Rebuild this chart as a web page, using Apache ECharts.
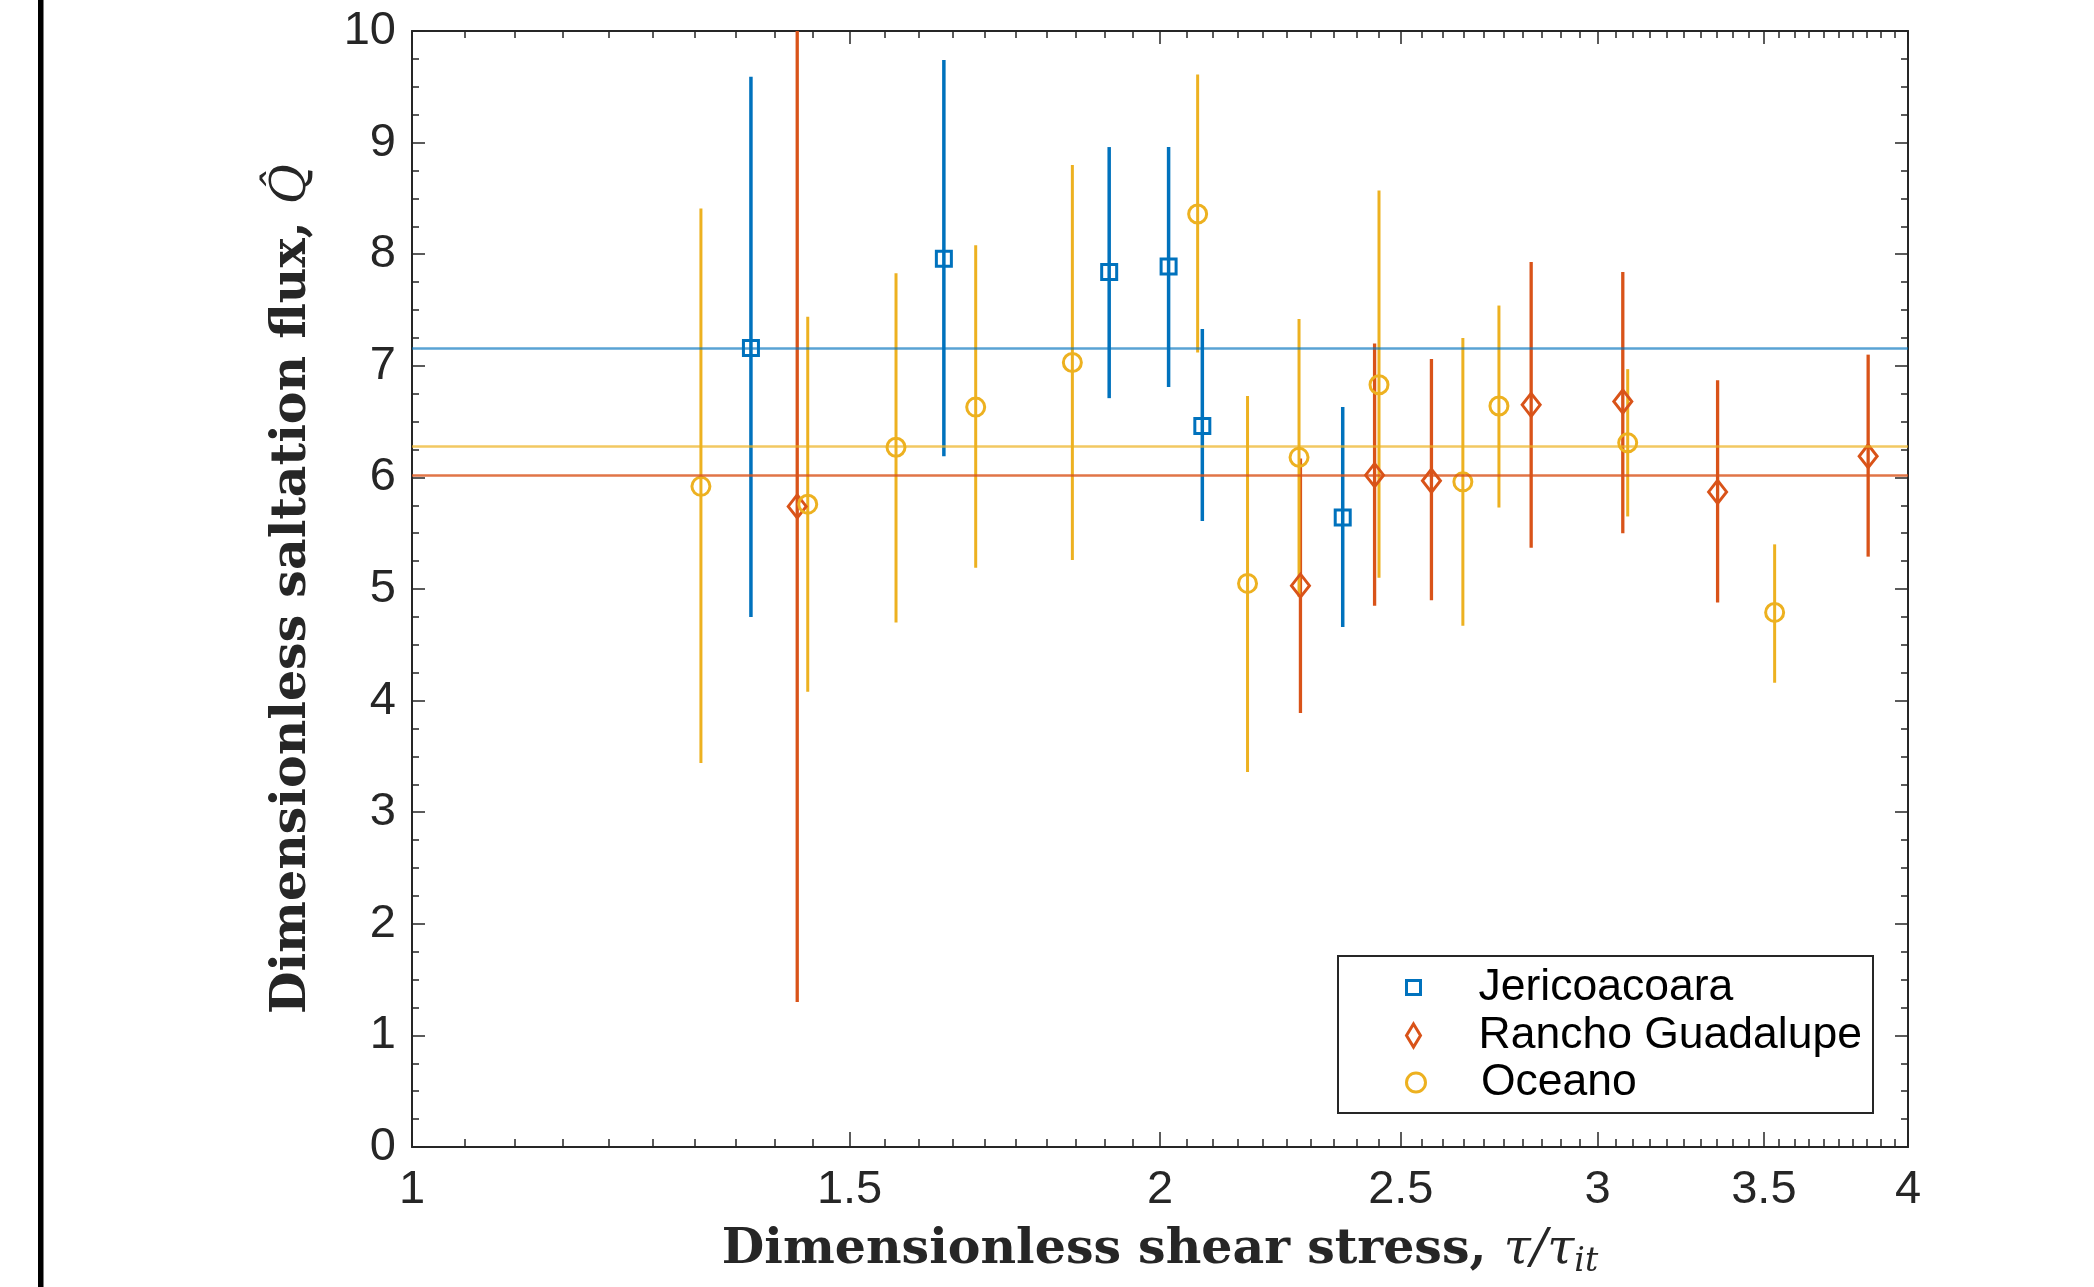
<!DOCTYPE html>
<html>
<head>
<meta charset="utf-8">
<title>Dimensionless saltation flux</title>
<script src="https://cdn.jsdelivr.net/npm/echarts@6/dist/echarts.min.js"></script>
<style>
    html, body { margin: 0; padding: 0; background: #fff; }
    #chart { width: 2094px; height: 1287px; }
</style>
</head>
<body>
<div id="chart"></div>
<script>
    // tau/tau_it (x), Q-hat (y) and the two ends of each error bar
    var jeriX  = [1.369, 1.637, 1.908, 2.016, 2.080, 2.369];
    var jeriY  = [7.16, 7.96, 7.84, 7.89, 6.46, 5.64];
    var jeriLo = [4.75, 6.19, 6.71, 6.81, 5.61, 4.66];
    var jeriHi = [9.59, 9.74, 8.96, 8.96, 7.33, 6.63];

    var ranchoX  = [1.429, 2.278, 2.440, 2.572, 2.821, 3.071, 3.353, 3.855];
    var ranchoY  = [5.74, 5.03, 6.02, 5.97, 6.65, 6.68, 5.87, 6.19];
    var ranchoLo = [1.30, 3.89, 4.85, 4.90, 5.37, 5.50, 4.88, 5.29];
    var ranchoHi = [10.19, 6.17, 7.20, 7.06, 7.93, 7.84, 6.87, 7.10];

    var oceanoX  = [1.307, 1.443, 1.566, 1.686, 1.844, 2.071, 2.169, 2.275, 2.450, 2.648, 2.738, 3.085, 3.535];
    var oceanoY  = [5.92, 5.76, 6.27, 6.63, 7.03, 8.36, 5.05, 6.18, 6.83, 5.96, 6.64, 6.31, 4.79];
    var oceanoLo = [3.44, 4.08, 4.70, 5.19, 5.26, 7.12, 3.36, 4.93, 5.10, 4.67, 5.73, 5.65, 4.16];
    var oceanoHi = [8.41, 7.44, 7.83, 8.08, 8.80, 9.61, 6.73, 7.42, 8.57, 7.25, 7.54, 6.97, 5.40];

    // site means (horizontal lines)
    var jeriMean = 7.16;
    var ranchoMean = 6.02;
    var oceanoMean = 6.28;

    var xTickLabels = [1, 1.5, 2, 2.5, 3, 3.5, 4];
    var xMinorTicks = [];
    for (var t = 105; t < 400; t += 5) {
        if (t % 50 !== 0) xMinorTicks.push(t / 100);
    }

    var BLUE = '#0072BD', RED = '#D95319', YELLOW = '#EDB120', AXIS = '#262626';

    // vertical error bar, cut at the top of the plot box
    function barSeries(name, xs, lo, hi, color, width) {
        var rows = xs.map(function (x, i) { return [x, lo[i], hi[i]]; });
        return {
            name: name,
            type: 'custom',
            data: rows,
            encode: { x: 0, y: [1, 2] },
            renderItem: function (params, api) {
                var a = api.coord([api.value(0), api.value(1)]);
                var b = api.coord([api.value(0), api.value(2)]);
                var cs = params.coordSys;
                return {
                    type: 'line',
                    shape: { x1: a[0], y1: Math.min(a[1], cs.y + cs.height), x2: b[0], y2: Math.max(b[1], cs.y) },
                    style: { stroke: color, lineWidth: width }
                };
            }
        };
    }

    function markSeries(name, xs, ys, symbol, size, color, mean, meanColor) {
        return {
            name: name,
            type: 'scatter',
            data: xs.map(function (x, i) { return [x, ys[i]]; }),
            symbol: symbol,
            symbolSize: size,
            itemStyle: { color: 'rgba(0,0,0,0)', borderColor: color, borderWidth: 3, opacity: 1 },
            emphasis: { disabled: true },
            markLine: {
                silent: true,
                symbol: 'none',
                label: { show: false },
                lineStyle: { color: meanColor, width: 2.5, type: 'solid' },
                data: [{ yAxis: mean }]
            }
        };
    }

    function xAxisDef(pos, ticks, len, withLabels, withLine) {
        return {
            type: 'log',
            logBase: 10,
            min: 1,
            max: 4,
            position: pos,
            gridIndex: 0,
            axisLine: { show: withLine, onZero: false, lineStyle: { color: AXIS, width: 2 } },
            axisTick: { show: true, inside: true, length: len, customValues: ticks, lineStyle: { color: AXIS, width: 1.5 } },
            axisLabel: withLabels ? {
                show: true,
                customValues: xTickLabels,
                margin: 20,
                fontSize: 47,
                fontFamily: 'Liberation Sans',
                color: AXIS
            } : { show: false },
            splitLine: { show: false },
            minorTick: { show: false }
        };
    }

    function yAxisDef(pos, withLabels) {
        return {
            type: 'value',
            min: 0,
            max: 10,
            interval: 1,
            position: pos,
            axisLine: { show: true, onZero: false, lineStyle: { color: AXIS, width: 2 } },
            axisTick: { show: true, inside: true, length: 13, lineStyle: { color: AXIS, width: 1.5 } },
            minorTick: { show: true, splitNumber: 4, length: 7, lineStyle: { color: AXIS, width: 1.5 } },
            axisLabel: withLabels ? {
                show: true,
                margin: 16,
                fontSize: 47,
                fontFamily: 'Liberation Sans',
                color: AXIS
            } : { show: false },
            splitLine: { show: false },
            minorSplitLine: { show: false }
        };
    }

    // one legend block per site so each icon gets its own size
    function legendRow(name, icon, size, color, top) {
        return {
            data: [{ name: name, icon: icon, itemStyle: { color: 'rgba(0,0,0,0)', borderColor: color, borderWidth: 3 } }],
            orient: 'vertical',
            left: 1390,
            top: top,
            itemWidth: 120,
            itemHeight: size,
            padding: [0, 0, 0, 15],
            selectedMode: false,
            z: 5,
            textStyle: { fontFamily: 'Liberation Sans', fontSize: 44.5, lineHeight: 47, color: '#000' }
        };
    }

    var xMain = xAxisDef('bottom', xTickLabels, 15, true, true);
    xMain.name = '{b|Dimensionless shear stress, }{m|\u03C4/\u03C4}{s|it}';
    xMain.nameLocation = 'middle';
    xMain.nameGap = 75;
    xMain.nameTextStyle = {
        color: AXIS,
        rich: {
            b: { fontFamily: 'DejaVu Serif', fontWeight: 'bold', fontSize: 49, lineHeight: 57, color: AXIS },
            m: { fontFamily: 'DejaVu Serif', fontStyle: 'italic', fontSize: 49, lineHeight: 57, color: AXIS },
            s: { fontFamily: 'DejaVu Serif', fontStyle: 'italic', fontSize: 33, lineHeight: 30, verticalAlign: 'bottom', color: AXIS }
        }
    };

    var yMain = yAxisDef('left', true);
    yMain.name = '{b|Dimensionless saltation flux, }{m|Q\u0302}';
    yMain.nameLocation = 'middle';
    yMain.nameGap = 91;
    yMain.nameRotate = 90;
    yMain.nameTextStyle = {
        color: AXIS,
        rich: {
            b: { fontFamily: 'DejaVu Serif', fontWeight: 'bold', fontSize: 49, lineHeight: 57, color: AXIS },
            m: { fontFamily: 'DejaVu Serif', fontStyle: 'italic', fontSize: 49, lineHeight: 57, color: AXIS }
        }
    };

    var chart = echarts.init(document.getElementById('chart'));

    var option = {
        backgroundColor: '#fff',
        animation: false,
        grid: { left: 412, top: 31, width: 1496, height: 1116 },
        xAxis: [
            xMain,
            xAxisDef('bottom', xMinorTicks, 8, false, false),
            xAxisDef('top', xTickLabels, 13, false, true),
            xAxisDef('top', xMinorTicks, 7, false, false)
        ],
        yAxis: [yMain, yAxisDef('right', false)],
        legend: [
            legendRow('Jericoacoara', 'path://M0,0L10,0L10,10L0,10Z', 14, BLUE, 964),
            legendRow('Rancho Guadalupe', 'path://M0,-23L14,0L0,23L-14,0Z', 23, RED, 1012),
            legendRow('Oceano', 'circle', 19, YELLOW, 1059)
        ],
        graphic: [{
            type: 'rect',
            left: 38,
            top: 0,
            shape: { width: 5.5, height: 1287 },
            style: { fill: '#000' }
        }, {
            type: 'rect',
            left: 1337,
            top: 955,
            z: 3,
            shape: { width: 535, height: 157 },
            style: { fill: '#fff', stroke: AXIS, lineWidth: 2 }
        }],
        series: [
            barSeries('Jericoacoara', jeriX, jeriLo, jeriHi, BLUE, 3.5),
            markSeries('Jericoacoara', jeriX, jeriY, 'rect', 15, BLUE, jeriMean, 'rgba(0,114,189,0.65)'),
            barSeries('Rancho Guadalupe', ranchoX, ranchoLo, ranchoHi, RED, 3.3),
            markSeries('Rancho Guadalupe', ranchoX, ranchoY, 'diamond', [18, 23], RED, ranchoMean, 'rgba(217,83,25,0.8)'),
            barSeries('Oceano', oceanoX, oceanoLo, oceanoHi, YELLOW, 3),
            markSeries('Oceano', oceanoX, oceanoY, 'circle', 18, YELLOW, oceanoMean, 'rgba(237,177,32,0.7)')
        ]
    };

    chart.setOption(option);
</script>
</body>
</html>
